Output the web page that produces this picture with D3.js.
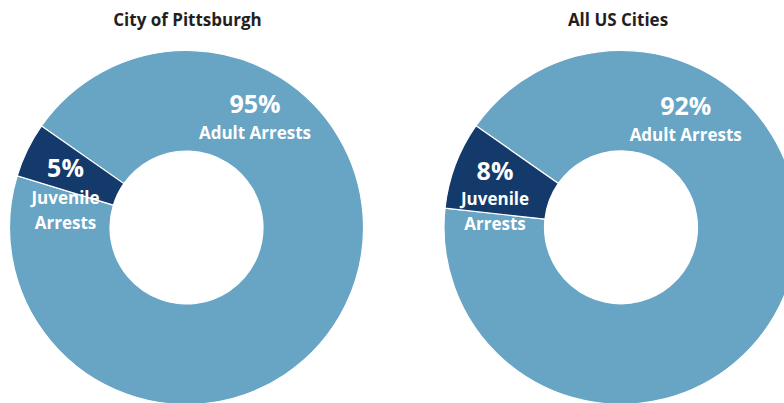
<!DOCTYPE html>
<html>
<head>
<meta charset="utf-8">
<script src="https://cdn.jsdelivr.net/npm/d3@7"></script>
<style>
  html, body { margin: 0; padding: 0; background: #fff; overflow: hidden; }
  svg { display: block; }
  text { font-family: "Open Sans", Lato, sans-serif; font-weight: 700; }
</style>
</head>
<body>
<svg id="chart" width="784" height="403"></svg>
<script>
// Share of arrests by age group
const groups = ["Adult Arrests", "Juvenile Arrests"];
const pittsburghShares = [95, 5];
const usCitiesShares = [92, 8];
const chartTitles = ["City of Pittsburgh", "All US Cities"];

const colors = d3.scaleOrdinal().domain(groups).range(["#68a4c4", "#143a6b"]);

const width = 784, height = 403;
const svg = d3.select("#chart");

const outerR = 177, innerR = 76.5;
const start = -55 * Math.PI / 180;

const pie = d3.pie().sort(null).value(d => d.value)
  .startAngle(start).endAngle(start + 2 * Math.PI);
const arc = d3.arc().innerRadius(innerR).outerRadius(outerR);

// Layout of each donut and its labels (offsets relative to the donut centre)
const panels = [
  { title: chartTitles[0], shares: pittsburghShares, cx: 186.5, cy: 227.5, titleX: 187.5,
    adult: { dx: 68.5, dy: -114.5 }, juvenile: { dx: -121, dy: -51, lines: ["Juvenile", "Arrests"], pctGap: 27.5, lineGap: 25 } },
  { title: chartTitles[1], shares: usCitiesShares, cx: 621, cy: 227.3, titleX: 618,
    adult: { dx: 64.7, dy: -112.5 }, juvenile: { dx: -126, dy: -47.5, lines: ["Juvenile", "Arrests"], pctGap: 25, lineGap: 25.5 } }
];

panels.forEach(p => {
  const data = groups.map((g, i) => ({ group: g, value: p.shares[i] }));

  svg.append("text")
    .attr("x", p.titleX).attr("y", 26)
    .attr("text-anchor", "middle")
    .attr("fill", "#231f20")
    .attr("font-size", 17)
    .text(p.title);

  const g = svg.append("g").attr("transform", `translate(${p.cx},${p.cy})`);

  g.selectAll("path")
    .data(pie(data))
    .join("path")
    .attr("d", arc)
    .attr("fill", d => colors(d.data.group))
    .attr("stroke", "#fff")
    .attr("stroke-width", 1.2);

  // Adult label
  const a = g.append("text").attr("fill", "#fff").attr("text-anchor", "middle");
  a.append("tspan").attr("x", p.adult.dx).attr("y", p.adult.dy)
    .attr("font-size", 25).text(data[0].value + "%");
  a.append("tspan").attr("x", p.adult.dx).attr("y", p.adult.dy + 26)
    .attr("font-size", 17).text("Adult Arrests");

  // Juvenile label
  const j = p.juvenile;
  const t = g.append("text").attr("fill", "#fff").attr("text-anchor", "middle");
  t.append("tspan").attr("x", j.dx).attr("y", j.dy)
    .attr("font-size", 25).text(data[1].value + "%");
  j.lines.forEach((line, i) => {
    t.append("tspan").attr("x", j.dx).attr("y", j.dy + j.pctGap + i * j.lineGap)
      .attr("font-size", 17).text(line);
  });
});
</script>
</body>
</html>
